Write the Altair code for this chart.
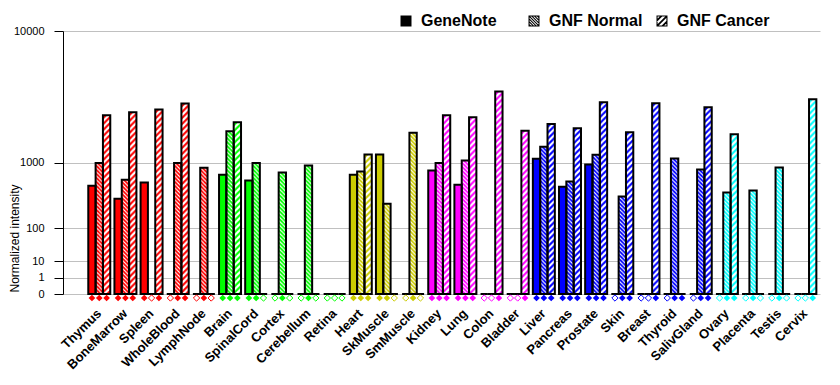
import base64
import altair as alt
import pandas as pd

# ---------------- data ----------------
tissues = ["Thymus", "BoneMarrow", "Spleen", "WholeBlood", "LymphNode",
           "Brain", "SpinalCord", "Cortex", "Cerebellum", "Retina",
           "Heart", "SkMuscle", "SmMuscle",
           "Kidney", "Lung", "Colon", "Bladder",
           "Liver", "Pancreas", "Prostate", "Skin", "Breast", "Thyroid", "SalivGland",
           "Ovary", "Placenta", "Testis", "Cervix"]
groups = (["immune"] * 5 + ["neural"] * 5 + ["muscle"] * 3 + ["visceral"] * 4
          + ["glandular"] * 7 + ["reproductive"] * 4)
group_names = ["immune", "neural", "muscle", "visceral", "glandular", "reproductive"]
group_colors = ["#FF0000", "#00FF00", "#CCCC00", "#FF00FF", "#0000FF", "#00FFFF"]

series = ["GeneNote", "GNF Normal", "GNF Cancer"]

genenote = [524, 342, 579, 0, 0, 723, 614, 0, 0, 0, 723, 1219, 0, 813, 540, 0, 0,
            1099, 508, 953, 0, 0, 0, 0, 0, 0, 0, 0]
gnf_normal = [986, 627, 0, 986, 875, 2028, 986, 771, 929, 0, 792, 286, 1974, 986, 1054, 0, 0,
              1459, 597, 1211, 371, 0, 1107, 836, 424, 452, 881, 0]
gnf_cancer = [2773, 2931, 3076, 3420, 0, 2427, 0, 0, 0, 0, 1219, 0, 0, 2773, 2668, 4198, 2056,
              2350, 2153, 3500, 1986, 3441, 0, 3206, 1905, 0, 0, 3690]

# present (1) / absent (0) calls shown as filled / open diamonds
genenote_call = [1, 1, 1, 0, 0, 1, 1, 0, 0, 0, 1, 1, 0, 1, 1, 0, 0, 1, 1, 1, 0, 0, 0, 0, 0, 0, 0, 0]
normal_call = [1, 1, 0, 1, 1, 1, 1, 1, 1, 0, 1, 1, 1, 1, 1, 0, 0, 1, 1, 1, 1, 0, 1, 1, 1, 1, 1, 0]
cancer_call = [1, 1, 1, 1, 0, 1, 0, 0, 0, 0, 1, 0, 0, 1, 1, 1, 1, 1, 1, 1, 1, 1, 1, 1, 1, 0, 0, 1]

y_ticks = [0, 1, 10, 100, 1000, 10000]

rows = []
for i, t in enumerate(tissues):
    for s, vals, calls in zip(series, [genenote, gnf_normal, gnf_cancer],
                              [genenote_call, normal_call, cancer_call]):
        rows.append({"tissue": t, "group": groups[i], "series": s,
                     "value": vals[i], "call": "P" if calls[i] else "A"})
df = pd.DataFrame(rows)
legend_df = pd.DataFrame({"series": series})

# ---------------- styling helpers ----------------
FONT = "Liberation Sans"


def hatch_uri(size, path, width):
    svg = ('<svg xmlns="http://www.w3.org/2000/svg" width="100%" height="100%">'
           f'<defs><pattern id="p" width="{size}" height="{size}" patternUnits="userSpaceOnUse">'
           f'<path d="{path}" stroke="#ffffff" stroke-width="{width}" fill="none"/></pattern></defs>'
           '<rect width="100%" height="100%" fill="url(#p)"/></svg>')
    return "data:image/svg+xml;base64," + base64.b64encode(svg.encode()).decode()


normal_uri = hatch_uri(4, "M-1,-1L5,5M-1,3L1,5M3,-1L5,1", 1)
cancer_uri = hatch_uri(6, "M-1,7L7,-1M-1,1L1,-1M5,7L7,5", 2.2)


def clip_square(poly):
    def clip(poly, inside, inter):
        out = []
        for k in range(len(poly)):
            cur, prev = poly[k], poly[k - 1]
            if inside(cur):
                if not inside(prev):
                    out.append(inter(prev, cur))
                out.append(cur)
            elif inside(prev):
                out.append(inter(prev, cur))
        return out

    def ix(k):
        return lambda p, q: (k, p[1] + (q[1] - p[1]) * (k - p[0]) / (q[0] - p[0]))

    def iy(k):
        return lambda p, q: (p[0] + (q[0] - p[0]) * (k - p[1]) / (q[1] - p[1]), k)

    poly = clip(poly, lambda p: p[0] <= 1, ix(1))
    poly = clip(poly, lambda p: p[0] >= -1, ix(-1))
    poly = clip(poly, lambda p: p[1] <= 1, iy(1))
    poly = clip(poly, lambda p: p[1] >= -1, iy(-1))
    return poly


def poly_path(poly):
    area = sum(poly[k][0] * poly[k + 1 - len(poly)][1] - poly[k + 1 - len(poly)][0] * poly[k][1]
               for k in range(len(poly)))
    if area < 0:
        poly = poly[::-1]
    return "M" + "L".join(f"{x:.3f},{y:.3f}" for x, y in poly) + "Z"


def hatch_icon(offsets, half, slope):
    b = 0.8
    d = "M-1,-1L1,-1L1,1L-1,1Z" + f"M{-b},{-b}L{-b},{b}L{b},{b}L{b},{-b}Z"
    for c in offsets:
        stripe = [(-3, slope * -3 + c - half), (3, slope * 3 + c - half),
                  (3, slope * 3 + c + half), (-3, slope * -3 + c + half)]
        p = clip_square(stripe)
        if len(p) >= 3:
            d += poly_path(p)
    return d


normal_icon = hatch_icon([-1.5, -1.0, -0.5, 0.0, 0.5, 1.0, 1.5], 0.13, 1)
cancer_icon = hatch_icon([-2.0, -1.0, 0.0, 1.0, 2.0], 0.22, -1)

# ---------------- encodings ----------------
x_enc = alt.X("tissue:N", sort=tissues,
              scale=alt.Scale(paddingInner=0.159, paddingOuter=0.553, align=0.874),
              axis=alt.Axis(title=None, labelAngle=-45, labelAlign="right", labelBaseline="middle",
                            labelPadding=17, ticks=False, tickSize=0, domain=False, grid=False,
                            labelFont=FONT, labelFontSize=13, labelFontWeight="bold",
                            labelColor="black", labelOverlap=False, labelBound=False))
xo_enc = alt.XOffset("series:N", sort=series,
                     scale=alt.Scale(domain=series, paddingInner=0, paddingOuter=0))
y_scale = alt.Scale(type="pow", exponent=0.30103, domain=[0, 10000], nice=False, zero=True)
y_axis = alt.Axis(values=y_ticks, format="d", title="Normalized intensity",
                  titleFont=FONT, titleFontSize=12, titleFontWeight="normal", titleColor="black",
                  titleAngle=270, titleAlign="left", titleBaseline="middle",
                  titleX=-49, titleY=261,
                  labelFont=FONT, labelFontSize=11, labelColor="black", labelPadding=10,
                  labelOverlap=False, labelBound=False, labelFlush=False,
                  tickSize=9, tickColor="black", domainColor="black",
                  grid=True, gridColor="#c0c0c0", gridWidth=1)
y_enc = alt.Y("value:Q", scale=y_scale, axis=y_axis)
color_enc = alt.Color("group:N", scale=alt.Scale(domain=group_names, range=group_colors), legend=None)

base = alt.Chart(df)

bars = base.mark_bar(strokeWidth=0).encode(x=x_enc, xOffset=xo_enc, y=y_enc, color=color_enc)

hatch_normal = base.transform_filter(alt.datum.series == "GNF Normal").mark_image(aspect=False).encode(
    x=x_enc, xOffset=xo_enc, y=y_enc, y2=alt.datum(0), url=alt.value(normal_uri))
hatch_cancer = base.transform_filter(alt.datum.series == "GNF Cancer").mark_image(aspect=False).encode(
    x=x_enc, xOffset=xo_enc, y=y_enc, y2=alt.datum(0), url=alt.value(cancer_uri))

outline = base.mark_bar(fillOpacity=0, stroke="black", strokeWidth=2).encode(
    x=x_enc, xOffset=xo_enc, y=y_enc)

diam_y = alt.Y(datum=0, scale=y_scale, axis=y_axis)
present = base.transform_filter(alt.datum.call == "P").mark_point(
    shape="diamond", filled=True, size=45, yOffset=4, opacity=1).encode(
    x=x_enc, xOffset=xo_enc, y=diam_y, color=color_enc)
absent = base.transform_filter(alt.datum.call == "A").mark_point(
    shape="diamond", filled=False, size=40, yOffset=4, strokeWidth=1, opacity=1).encode(
    x=x_enc, xOffset=xo_enc, y=diam_y, color=color_enc)

legend_layer = alt.Chart(legend_df).mark_point(filled=True, opacity=0, color="black", size=121).encode(
    shape=alt.Shape("series:N", sort=series,
                    scale=alt.Scale(domain=series, range=["square", normal_icon, cancer_icon]),
                    legend=alt.Legend(title=None, orient="none", legendX=335, legendY=-18,
                                      direction="horizontal", columns=3, gridAlign="all",
                                      columnPadding=11, symbolSize=121, symbolOpacity=1,
                                      symbolStrokeWidth=0, symbolFillColor="black",
                                      labelFont=FONT, labelFontSize=16, labelFontWeight="bold",
                                      labelColor="black", labelOffset=7, labelLimit=300,
                                      padding=0)))

chart = alt.layer(bars, hatch_normal, hatch_cancer, outline, present, absent, legend_layer).properties(
    width=757, height=263,
    autosize=alt.AutoSizeParams(type="none"),
    padding={"left": 55, "top": 23, "right": 12, "bottom": 83},
    background="white",
).configure_view(stroke=None)

chart.save("out.html", embed_options={"renderer": "svg", "actions": False})
